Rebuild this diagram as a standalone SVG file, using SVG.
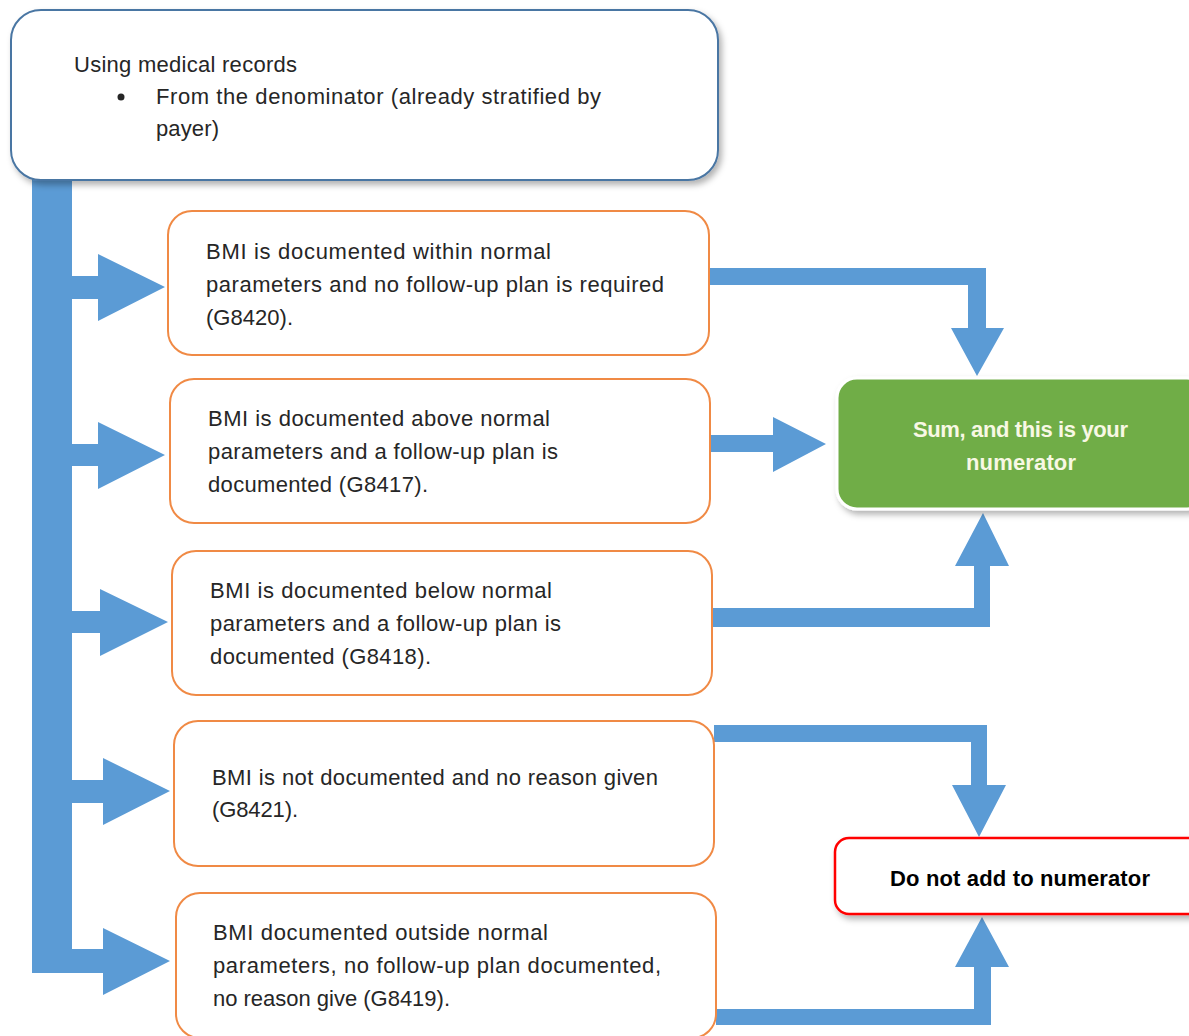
<svg xmlns="http://www.w3.org/2000/svg" width="1189" height="1036" viewBox="0 0 1189 1036">
<style>
.t{font-family:"Liberation Sans",Arial,sans-serif;font-size:22px;fill:#262626}
.b{font-weight:bold}
.box{fill:#fff;stroke:#f08a45;stroke-width:2}
.blue{fill:#5b9bd5}
</style>
<defs>
<filter id="sh" x="-10%" y="-10%" width="125%" height="130%">
<feDropShadow dx="3" dy="4" stdDeviation="3" flood-color="#000" flood-opacity="0.3"/>
</filter>
</defs>
<rect width="1189" height="1036" fill="#fff"/>
<g id="connectors">
<path class="blue" d="M32 178 H72 V949 H103 V928 L170 961 L103 995 V973 H32 Z"/>
<path class="blue" d="M72 276 H98 V254 L165 287 L98 321 V299 H72 Z"/>
<path class="blue" d="M72 444 H98 V422 L165 455 L98 489 V466 H72 Z"/>
<path class="blue" d="M72 611 H100 V589 L168 622 L100 656 V633 H72 Z"/>
<path class="blue" d="M72 780 H103 V758 L170 791 L103 825 V803 H72 Z"/>
<path class="blue" d="M709 268 H986 V328 H1004 L977 376 L951 328 H968 V285 H709 Z"/>
<path class="blue" d="M710 435 H773 V417 L826 444 L773 472 V452 H710 Z"/>
<path class="blue" d="M712 608 H974 V566 H955 L983 513 L1009 566 H990 V627 H712 Z"/>
<path class="blue" d="M714 725 H987 V785 H1006 L979 837 L952 785 H971 V742 H714 Z"/>
<path class="blue" d="M716 1009 H974 V967 H955 L982 917 L1009 967 H991 V1025 H716 Z"/>
</g>
<g id="start">
<rect x="11" y="10" width="707" height="170" rx="30" fill="#fff" stroke="#4a76a3" stroke-width="2" filter="url(#sh)"/>
<text class="t" x="74" y="72" textLength="223" lengthAdjust="spacing">Using medical records</text>
<circle cx="121" cy="97" r="3.5" fill="#262626"/>
<text class="t" x="156" y="104" textLength="445" lengthAdjust="spacing">From the denominator (already stratified by</text>
<text class="t" x="156" y="136" textLength="63" lengthAdjust="spacing">payer)</text>
</g>
<g id="n1">
<rect class="box" x="168" y="211" width="541" height="144" rx="24"/>
<text class="t" x="206" y="259" textLength="345" lengthAdjust="spacing">BMI is documented within normal</text>
<text class="t" x="206" y="292" textLength="458" lengthAdjust="spacing">parameters and no follow-up plan is required</text>
<text class="t" x="206" y="325" textLength="87" lengthAdjust="spacing">(G8420).</text>
</g>
<g id="n2">
<rect class="box" x="170" y="379" width="540" height="144" rx="24"/>
<text class="t" x="208" y="426" textLength="342" lengthAdjust="spacing">BMI is documented above normal</text>
<text class="t" x="208" y="459" textLength="350" lengthAdjust="spacing">parameters and a follow-up plan is</text>
<text class="t" x="208" y="492" textLength="220" lengthAdjust="spacing">documented (G8417).</text>
</g>
<g id="n3">
<rect class="box" x="172" y="551" width="540" height="144" rx="24"/>
<text class="t" x="210" y="598" textLength="342" lengthAdjust="spacing">BMI is documented below normal</text>
<text class="t" x="210" y="631" textLength="351" lengthAdjust="spacing">parameters and a follow-up plan is</text>
<text class="t" x="210" y="664" textLength="221" lengthAdjust="spacing">documented (G8418).</text>
</g>
<g id="n4">
<rect class="box" x="174" y="721" width="540" height="145" rx="24"/>
<text class="t" x="212" y="785" textLength="446" lengthAdjust="spacing">BMI is not documented and no reason given</text>
<text class="t" x="212" y="817" textLength="86" lengthAdjust="spacing">(G8421).</text>
</g>
<g id="n5">
<rect class="box" x="176" y="893" width="540" height="145" rx="24"/>
<text class="t" x="213" y="940" textLength="335" lengthAdjust="spacing">BMI documented outside normal</text>
<text class="t" x="213" y="973" textLength="448" lengthAdjust="spacing">parameters, no follow-up plan documented,</text>
<text class="t" x="213" y="1006" textLength="237" lengthAdjust="spacing">no reason give (G8419).</text>
</g>
<g id="numerator">
<rect x="837" y="378" width="370" height="131" rx="20" fill="#70ad47" stroke="#fff" stroke-width="3" filter="url(#sh)"/>
<text class="t b" x="913" y="437" textLength="215" lengthAdjust="spacing" style="fill:#f8f8e4">Sum, and this is your</text>
<text class="t b" x="966" y="470" textLength="110" lengthAdjust="spacing" style="fill:#f8f8e4">numerator</text>
</g>
<g id="excluded">
<rect x="835" y="838" width="370" height="76" rx="14" fill="#fff" stroke="#ff0000" stroke-width="2.5" filter="url(#sh)"/>
<text class="t b" x="890" y="886" textLength="260" lengthAdjust="spacing" style="fill:#000">Do not add to numerator</text>
</g>
</svg>
